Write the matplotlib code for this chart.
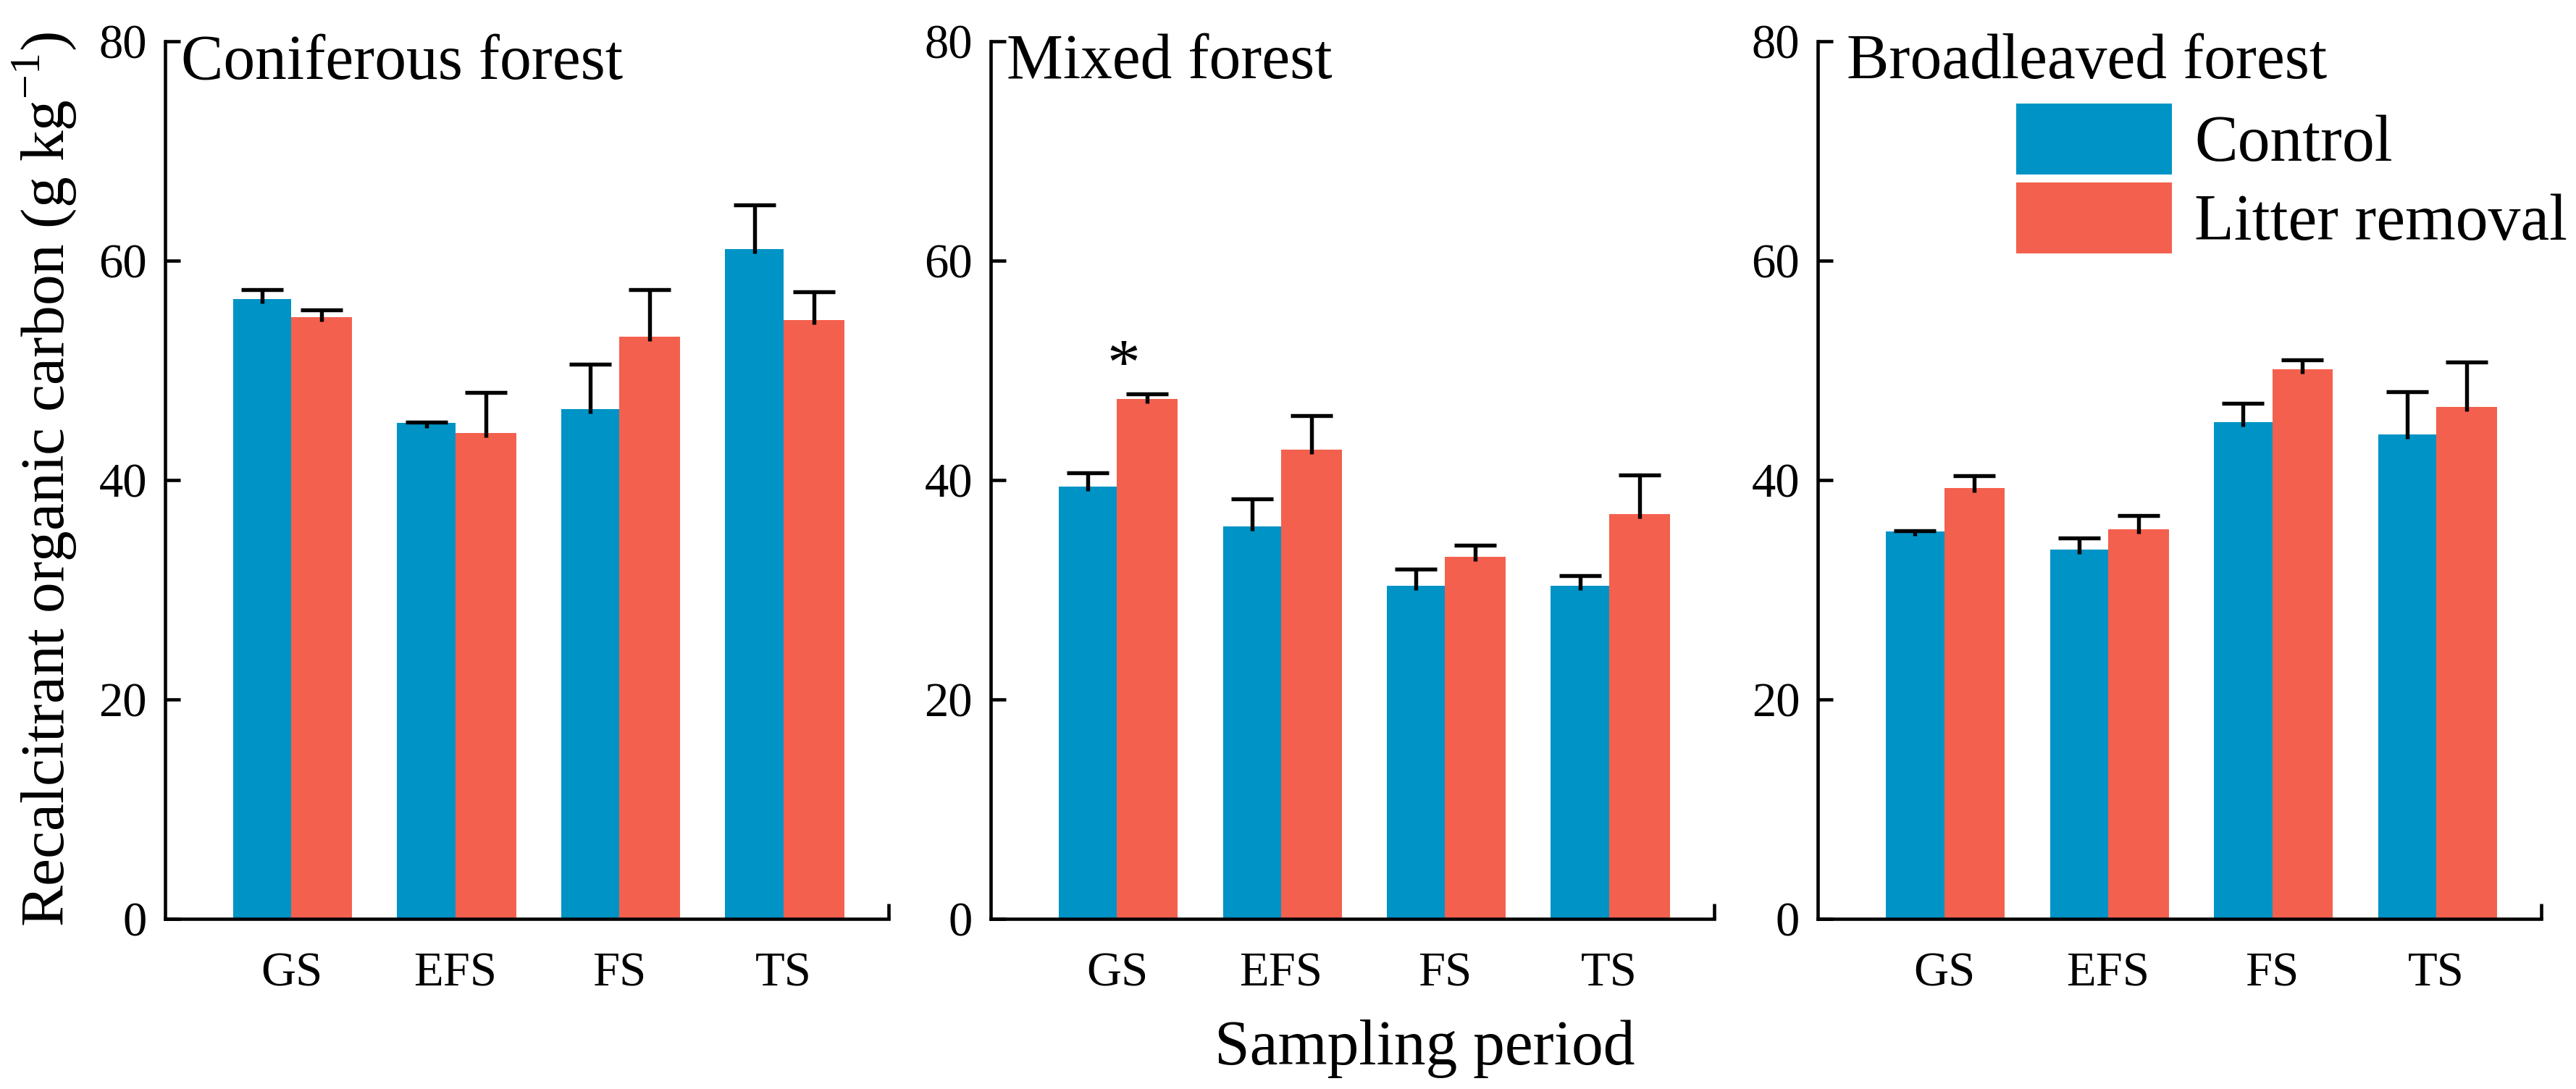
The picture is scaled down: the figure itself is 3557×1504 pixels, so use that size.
import matplotlib
matplotlib.use("Agg")
import matplotlib.pyplot as plt
import numpy as np

plt.rcParams['font.family'] = ['Liberation Serif', 'DejaVu Serif']
plt.rcParams['mathtext.fontset'] = 'custom'
plt.rcParams['mathtext.rm'] = 'Liberation Serif'

periods = ["GS", "EFS", "FS", "TS"]
forests = ["Coniferous forest", "Mixed forest", "Broadleaved forest"]

# means and upper error (SE)
control_mean = [
    [56.5, 45.2, 46.5, 61.1],
    [39.4, 35.8, 30.4, 30.4],
    [35.3, 33.7, 45.3, 44.2],
]
control_err = [
    [0.9, 0.1, 4.1, 4.0],
    [1.3, 2.5, 1.5, 0.9],
    [0.1, 1.0, 1.7, 3.9],
]
removal_mean = [
    [54.9, 44.3, 53.1, 54.6],
    [47.4, 42.8, 33.0, 36.9],
    [39.3, 35.5, 50.1, 46.7],
]
removal_err = [
    [0.6, 3.7, 4.3, 2.6],
    [0.5, 3.1, 1.1, 3.6],
    [1.1, 1.3, 0.9, 4.1],
]
# significant difference marks: (panel, period index)
signif = [(1, 0)]

blue = "#0093C5"
red = "#F4604E"

fig = plt.figure(figsize=(3557 / 300, 1504 / 300), dpi=300)
lefts = [0.0641, 0.3846, 0.7057]
width = 0.2808
bottom, height = 0.1563, 0.8055

x = np.arange(len(periods))
xmin, xmax = -0.77, 3.64
bw_c, bw_r = 0.355, 0.37


def draw_err(ax, xs, means, errs):
    means = np.asarray(means)
    tops = means + np.asarray(errs)
    # stem pokes a little into the bar, like the original
    ax.vlines(xs, means - 0.4, tops, color='black', lw=1.3, zorder=3)
    ax.plot(xs, tops, ls='none', marker='_', ms=14, mew=1.3,
            color='black', zorder=3)


for i, name in enumerate(forests):
    ax = fig.add_axes([lefts[i], bottom, width, height])
    ax.bar(x, control_mean[i], width=-bw_c, align='edge', color=blue,
           label="Control", zorder=2)
    ax.bar(x, removal_mean[i], width=bw_r, align='edge', color=red,
           label="Litter removal", zorder=2)
    draw_err(ax, x - bw_c / 2, control_mean[i], control_err[i])
    draw_err(ax, x + bw_r / 2, removal_mean[i], removal_err[i])

    ax.set_xlim(xmin, xmax)
    ax.set_ylim(0, 80)
    ax.set_yticks([0, 20, 40, 60, 80])
    ax.set_xticks(x)
    ax.set_xticklabels(periods)
    ax.set_xticks([xmax], minor=True)
    ax.tick_params(axis='y', direction='in', length=5, width=1.1,
                   labelsize=16, pad=6)
    ax.tick_params(axis='x', which='major', length=0, labelsize=16, pad=11)
    ax.tick_params(axis='x', which='minor', direction='in', length=5,
                   width=1.1)
    for s in ['top', 'right']:
        ax.spines[s].set_visible(False)
    for s in ['left', 'bottom']:
        ax.spines[s].set_linewidth(1.1)

    tx = 0.04 if i == 2 else 0.022
    ax.text(tx, 0.958, name, transform=ax.transAxes, fontsize=21,
            ha='left', va='baseline')

    for p, k in signif:
        if p == i:
            ax.text(x[k] + 0.04, removal_mean[i][k] + removal_err[i][k] - 0.4,
                    "*", fontsize=22, ha='center', va='bottom')

    if i == 2:
        ax.legend(loc='upper left', bbox_to_anchor=(0.274, 0.929),
                  frameon=False, fontsize=21.5, handlelength=2.4,
                  handleheight=1.3, handletextpad=0.35, labelspacing=0.12,
                  borderaxespad=0, borderpad=0)

fig.text(0.0172, 0.56, "Recalcitrant organic carbon (g kg$^{-1}$)",
         rotation=90, ha='center', va='center', fontsize=20.5)
fig.text(0.553, 0.0226, "Sampling period", ha='center', va='baseline',
         fontsize=21)

fig.savefig("out.png", dpi=300)
